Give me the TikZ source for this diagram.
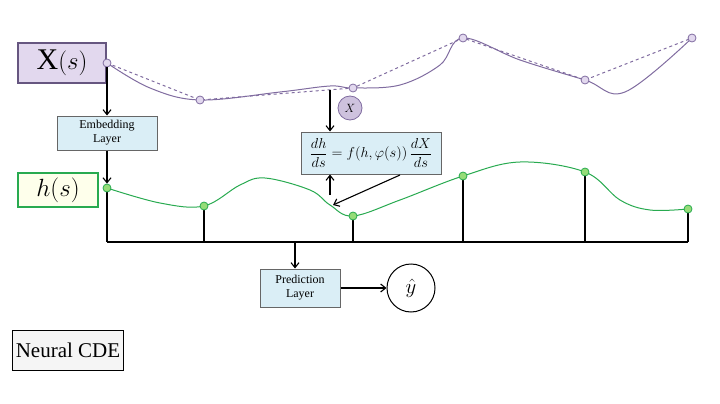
\documentclass[tikz,border=0pt]{standalone}
\usepackage{amsmath}
\usepackage{fontspec}
\setmainfont{Liberation Serif}
\usetikzlibrary{arrows.meta}
\definecolor{lav}{RGB}{128,108,160}
\definecolor{lavfill}{RGB}{226,216,238}
\definecolor{grn}{RGB}{40,170,80}
\definecolor{grnfill}{RGB}{150,220,120}
\definecolor{boxblue}{RGB}{218,238,246}
\begin{document}
\begin{tikzpicture}[x=1pt,y=-1pt,>={Straight Barb[length=5pt,width=8pt]},line width=1.1pt]
\tikzstyle{blk}=[rectangle,draw=black!60,line width=1pt,fill=boxblue,align=center,font=\large,inner sep=2pt]
\tikzstyle{pdot}=[circle,draw=lav,line width=0.8pt,fill=lavfill,inner sep=0pt,minimum size=8pt]
\tikzstyle{gdot}=[circle,draw=grn,line width=0.8pt,fill=grnfill,inner sep=0pt,minimum size=8pt]
\useasboundingbox (0,0) rectangle (720,404);
% input path
\node[draw=lav!80!black,fill=lavfill,minimum width=88pt,minimum height=40pt,font=\fontsize{30}{32}\selectfont,line width=1.6pt] (xs) at (62,63) {X$(s)$};
\draw[lav,line width=1pt] plot[smooth,tension=0.6] coordinates {(107,63) (150,88) (200,100) (280,92) (330,86) (353,88) (400,85) (440,65) (463,38) (520,60) (585,80) (625,92) (692,38)};
\draw[lav,line width=1pt,dashed] (107,63) -- (200,100) -- (353,88) -- (463,38) -- (585,80) -- (692,38);
\foreach \p/\x/\y in {p1/107/63,p2/200/100,p3/353/88,p4/463/38,p5/585/80,p6/692/38}
  \node[pdot] (\p) at (\x,\y) {};
% hidden path
\node[draw=grn,fill=green!6!yellow!8,minimum width=80pt,minimum height=34pt,font=\fontsize{30}{32}\selectfont,line width=1.6pt] (hs) at (58,190) {$h(s)$};
\draw[grn,line width=1pt] plot[smooth,tension=0.6] coordinates {(107,188) (160,203) (204,206) (240,185) (265,178) (310,190) (330,205) (353,216) (400,200) (463,176) (520,162) (585,172) (620,200) (650,210) (688,209)};
\foreach \h/\x/\y in {h1/107/188,h2/204/206,h3/353/216,h4/463/176,h5/585/172,h6/688/209}{
  \coordinate (\h b) at (\x,242);
  \draw (\x,\y) -- (\h b);
  \node[gdot] (\h) at (\x,\y) {};
}
\draw (h1b) -- (h6b);
\coordinate (mid) at (295,242);
% blocks
\node[blk,minimum width=100pt,minimum height=34pt] (emb) at (107,133) {Embedding\\Layer};
\node[blk,minimum width=140pt,minimum height=42pt,font=\Large] (eq) at (371,153) {$\dfrac{dh}{ds}=f(h,\varphi(s))\,\dfrac{dX}{ds}$};
\node[circle,draw=lav,line width=0.8pt,fill=lavfill!80!lav,minimum size=24pt,inner sep=0pt,font=\large] (xc) at (350,108) {$X$};
\node[blk,minimum width=80pt,minimum height=38pt] (pred) at (300,288) {Prediction\\Layer};
\node[circle,draw,line width=1pt,minimum size=48pt,inner sep=0pt,font=\huge] (yhat) at (411,288) {$\hat{y}$};
\node[draw,line width=1pt,fill=black!4,minimum width=100pt,minimum height=40pt,font=\fontsize{21}{24}\selectfont] (ncde) at (68,350) {Neural CDE};
\coordinate (c1) at (330,90);
\coordinate (c2) at (330,195);
\coordinate (c3) at (400,175);
\coordinate (c4) at (333,205);
% connectors
\draw[->] (p1) -- (p1 |- emb.north);
\draw[->] (emb) -- (h1);
\draw[->] (c1) -- (c1 |- eq.north);
\draw[->] (c2) -- (c2 |- eq.south);
\draw[->] (c3) -- (c4);
\draw[->] (mid) -- (mid |- pred.north);
\draw[->] (pred) -- (yhat);
\end{tikzpicture}
\end{document}
